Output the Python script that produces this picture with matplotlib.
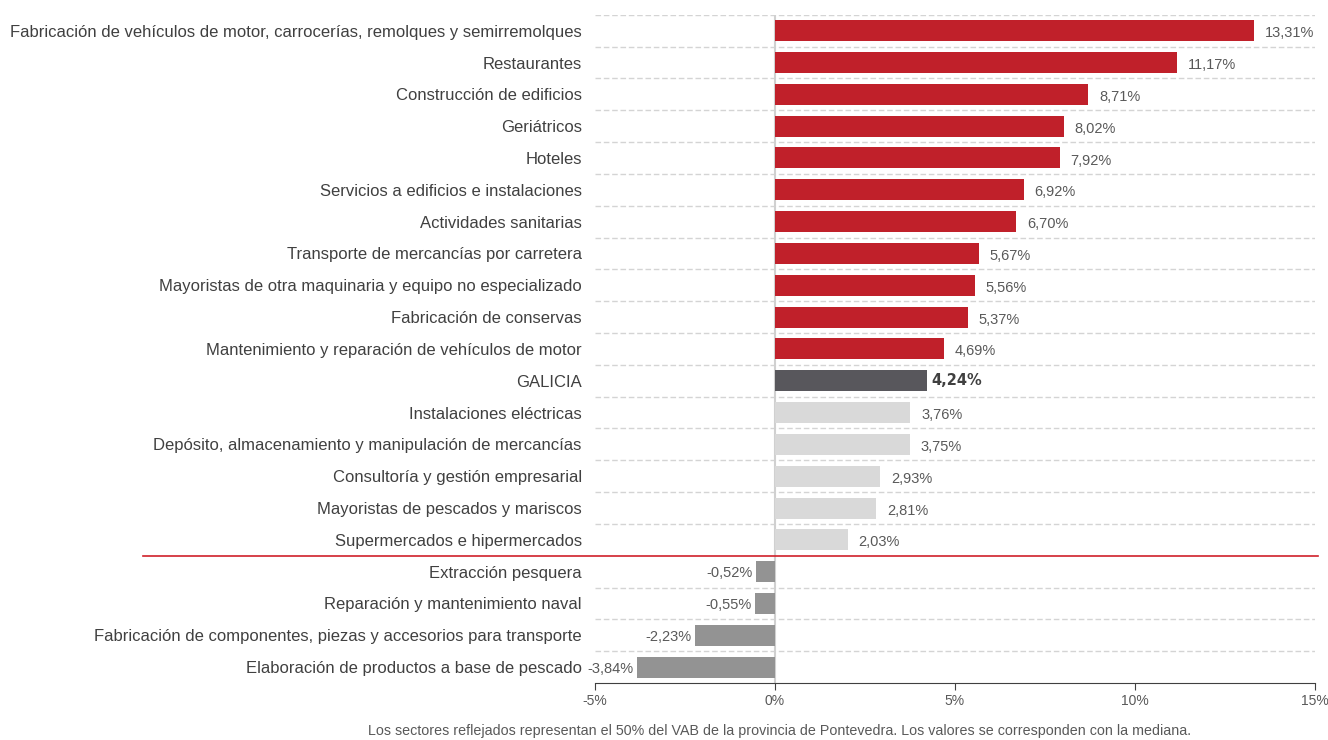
import matplotlib.pyplot as plt
from matplotlib.lines import Line2D
import numpy as np

plt.rcParams['font.family'] = ['Liberation Sans', 'DejaVu Sans']

sectores = [
    "Fabricación de vehículos de motor, carrocerías, remolques y semirremolques",
    "Restaurantes",
    "Construcción de edificios",
    "Geriátricos",
    "Hoteles",
    "Servicios a edificios e instalaciones",
    "Actividades sanitarias",
    "Transporte de mercancías por carretera",
    "Mayoristas de otra maquinaria y equipo no especializado",
    "Fabricación de conservas",
    "Mantenimiento y reparación de vehículos de motor",
    "GALICIA",
    "Instalaciones eléctricas",
    "Depósito, almacenamiento y manipulación de mercancías",
    "Consultoría y gestión empresarial",
    "Mayoristas de pescados y mariscos",
    "Supermercados e hipermercados",
    "Extracción pesquera",
    "Reparación y mantenimiento naval",
    "Fabricación de componentes, piezas y accesorios para transporte",
    "Elaboración de productos a base de pescado",
]
valores = [13.31, 11.17, 8.71, 8.02, 7.92, 6.92, 6.70, 5.67, 5.56, 5.37, 4.69,
           4.24, 3.76, 3.75, 2.93, 2.81, 2.03, -0.52, -0.55, -2.23, -3.84]
galicia = 4.24
ticks = [-5, 0, 5, 10, 15]
nota = ("Los sectores reflejados representan el 50% del VAB de la provincia de Pontevedra. "
        "Los valores se corresponden con la mediana.")

RED = "#C0202A"
DARK = "#58575C"
LIGHT = "#D9D9D9"
NEG = "#939393"


def bar_color(name, v):
    if name == "GALICIA":
        return DARK
    if v < 0:
        return NEG
    return RED if v > galicia else LIGHT


fig = plt.figure(figsize=(13.28, 7.40), dpi=100)
ax = fig.add_axes([0.448, 0.077, 0.542, 0.903])

y = np.arange(len(sectores))
colors = [bar_color(n, v) for n, v in zip(sectores, valores)]
ax.barh(y, valores, height=0.66, color=colors, zorder=3)

ax.set_xlim(-5, 15)
ax.set_ylim(len(sectores) - 0.5, -0.5)

# horizontal dashed separators between rows
sep_idx = sum(1 for v in valores if v >= 0) - 1
for i in range(len(sectores) - 1):
    if i == sep_idx:
        continue
    ax.axhline(i + 0.5, color="#D4D4D4", lw=1.0, ls=(0, (4, 2)), zorder=1)
ax.axhline(-0.5, color="#D4D4D4", lw=1.0, ls=(0, (4, 2)), zorder=1)
ax.axvline(0, color="#D0D0D0", lw=1.5, zorder=2)

# red line between positives and negatives, running under the labels too
ax.add_line(Line2D([-17.55, 15.1], [sep_idx + 0.5] * 2, color="#D0202A", lw=1.2,
                   clip_on=False, zorder=4))

for yi, v, n in zip(y, valores, sectores):
    txt = f"{v:.2f}%".replace(".", ",")
    if n == "GALICIA":
        ax.text(v + 0.12, yi, txt, va="center", ha="left", fontsize=10.5,
                fontweight="bold", color="#404040", family="DejaVu Sans")
    elif v >= 0:
        ax.text(v + 0.3, yi + 0.08, txt, va="center", ha="left", fontsize=10.5, color="#595959")
    else:
        ax.text(v - 0.1, yi + 0.05, txt, va="center", ha="right", fontsize=10.5, color="#595959")

ax.set_yticks(y)
ax.set_yticklabels(sectores, fontsize=12, color="#404040")
ax.tick_params(axis="y", length=0, pad=9.5)
ax.set_xticks(ticks)
ax.set_xticklabels([f"{t}%" for t in ticks], fontsize=10, color="#595959")
ax.tick_params(axis="x", length=5, color="#404040", pad=3)

for s in ["top", "right", "left"]:
    ax.spines[s].set_visible(False)
ax.spines["bottom"].set_color("#404040")

fig.text(0.587, 0.003, nota, ha="center", va="bottom", fontsize=10.3, color="#595959")

fig.savefig("out.png", dpi=100)
